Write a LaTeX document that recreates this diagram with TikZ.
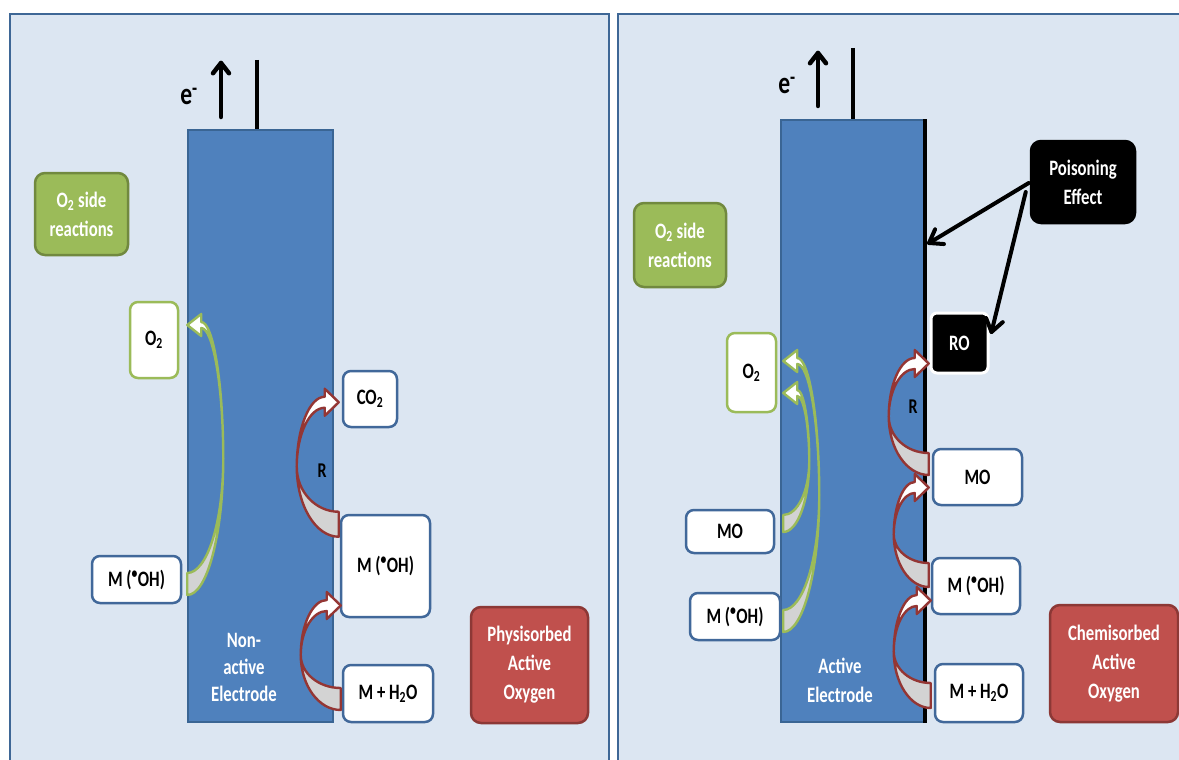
\documentclass[tikz,border=0pt]{standalone}
\usepackage{fontspec}
\newfontfamily\lblfont{Carlito}[FakeStretch=0.76]
\usetikzlibrary{arrows.meta,calc}
\definecolor{bgblue}{HTML}{DCE6F2}
\definecolor{panelblue}{HTML}{3E6796}
\definecolor{elblue}{HTML}{4F81BD}
\definecolor{elborder}{HTML}{3A6594}
\definecolor{boxblue}{HTML}{41689A}
\definecolor{gline}{HTML}{9BBB59}
\definecolor{gborder}{HTML}{71893F}
\definecolor{rfill}{HTML}{C0504D}
\definecolor{rborder}{HTML}{8C3836}
\definecolor{arrred}{HTML}{943634}
\definecolor{arrgrey}{HTML}{D3D3D3}
\newcommand\labfont{\lblfont\bfseries\fontsize{22}{29}\selectfont}
% #1 origin, #2 direction (1 bulge left, -1 bulge right), #3 H, #4 B, #5 w, #6 t, #7 colour
\newcommand\curvArrow[7]{%
\begin{scope}[shift={#1}, xscale=#2]
  \pgfmathsetmacro\kB{0.5523*#4}
  \filldraw[fill=arrgrey, draw=#7, line width=2.4pt, line join=round]
    (0,0) .. controls (-\kB,0) and (-#4,{-#3/2+0.5523*#3/2}) .. (-#4,{-#3/2})
    .. controls (-#4,{-#3/2+0.5523*(#3/2-#5)}) and (-\kB,-#5) .. (0,-#5) -- cycle;
  \filldraw[fill=white, draw=#7, line width=2.4pt, line join=round]
    (-#4,{-#3/2}) .. controls (-#4,{-#3/2-0.5523*#3/2}) and ({-\kB-6},-#3) .. (-14,-#3)
    -- (-14,{-#3-8}) -- (0,{-#3+#6/2}) -- (-14,{-#3+#6+8}) -- (-14,{-#3+#6})
    .. controls ({-\kB-6},{-#3+#6}) and (-#4,{-#3/2-0.5523*(#3/2-#6)}) .. (-#4,{-#3/2}) -- cycle;
\end{scope}}
% open V arrow: #1 start, #2 tip, #3 barb length, #4 half angle, #5 line width
\newcommand\vArrow[5]{%
  \draw[line width=#5, line cap=round, line join=round] #1 -- #2;
  \draw[line width=#5, line cap=round, line join=round]
    ($#2!#3!#4:#1$) -- #2 -- ($#2!#3!-#4:#1$);}
\begin{document}
\begin{tikzpicture}[x=1pt,y=-1pt,
  panel/.style={fill=bgblue, draw=panelblue, line width=2.5pt},
  elec/.style={fill=elblue, draw=elborder, line width=1.5pt, inner sep=0pt},
  eltext/.style={text=white, font=\labfont, align=center},
  wbox/.style={draw=boxblue, fill=white, line width=2.5pt, rounded corners=8pt, inner sep=0pt, font=\labfont, align=center},
  gbox/.style={wbox, draw=gline},
  tagbox/.style={rounded corners=10pt, line width=2.5pt, inner sep=0pt, text=white, font=\labfont, align=center},
  greentag/.style={tagbox, fill=gline, draw=gborder},
  redtag/.style={tagbox, fill=rfill, draw=rborder},
  blacktag/.style={tagbox, fill=black, draw=black},
  wire/.style={line width=3.5pt},
  rlabel/.style={font=\lblfont\bfseries\fontsize{21}{24}\selectfont},
  elabel/.style={font=\lblfont\bfseries\fontsize{31}{34}\selectfont, inner sep=0pt}
]
\useasboundingbox (0,0) rectangle (1179,760);
\clip (0,0) rectangle (1179,760);
\fill[white] (0,0) rectangle (1179,760);
\draw[panel] (10,14) rectangle (609,775);
\draw[panel] (618,14) rectangle (1195,775);

% ---------- left panel ----------
\node[elec, minimum width=145, minimum height=592] (lelec) at (260.5,426) {};
\node[eltext] (ltxt) at (244,667) {Non-\\[-2pt]active\\[-2pt]Electrode};
\coordinate (lwire) at (257,60);
\draw[wire] (lwire) -- (lwire |- lelec.north);
\coordinate (learrS) at (221,117);
\coordinate (learrE) at (221,63);
\vArrow{(learrS)}{(learrE)}{13pt}{38}{4.5pt}
\node[elabel] (le) at (189,96) {e\textsuperscript{-}};

\node[greentag, minimum width=93, minimum height=82] (lside) at (81.5,214) {O\textsubscript{2} side\\reactions};
\node[gbox, minimum width=48, minimum height=76] (lo2) at (154,340) {O\textsubscript{2}};
\node[wbox, minimum width=89, minimum height=47] (lmoh1) at (136.5,579.5) {M (\textsuperscript{\textbullet}OH)};
\node[wbox, minimum width=54, minimum height=56] (lco2) at (370,399) {CO\textsubscript{2}};
\node[wbox, minimum width=89, minimum height=102] (lmoh2) at (385.5,566) {M (\textsuperscript{\textbullet}OH)};
\node[wbox, minimum width=90, minimum height=57] (lmh2o) at (388,693.5) {M + H\textsubscript{2}O};
\node[redtag, minimum width=117, minimum height=116] (lphys) at (529.5,665) {Physisorbed\\Active\\Oxygen};
\node[rlabel] (lR) at (322,471) {R};

\curvArrow{($(lmoh1.east)+(5,15.5)$)}{-1}{273}{36}{22}{6}{gline}
\curvArrow{($(lmoh2.north west)+(-1,23)$)}{1}{140}{42}{25}{11}{arrred}
\curvArrow{($(lmh2o.west)+(-1,16.5)$)}{1}{110}{40}{22}{11}{arrred}

% ---------- right panel ----------
\node[elec, minimum width=143, minimum height=602] (relec) at (852.5,421) {};
\draw[line width=3.5pt] (relec.north east) -- (relec.south east);
\node[eltext] (rtxt) at (840,680) {Active\\Electrode};
\coordinate (rwire) at (853,48);
\draw[wire] (rwire) -- (rwire |- relec.north);
\coordinate (rearrS) at (818,106);
\coordinate (rearrE) at (818,53);
\vArrow{(rearrS)}{(rearrE)}{13pt}{38}{4.5pt}
\node[elabel] (re) at (787,85) {e\textsuperscript{-}};

\node[greentag, minimum width=92, minimum height=84] (rside) at (680,245) {O\textsubscript{2} side\\reactions};
\node[gbox, minimum width=49, minimum height=79] (ro2) at (751.5,372.5) {O\textsubscript{2}};
\node[wbox, minimum width=88, minimum height=43] (rmo1) at (730,531.5) {MO};
\node[wbox, minimum width=90, minimum height=47] (rmoh1) at (735,616.5) {M (\textsuperscript{\textbullet}OH)};
\node[blacktag, draw=white, line width=3pt, rounded corners=6pt, minimum width=57, minimum height=60] (rro) at (959.5,343) {RO};
\node[wbox, minimum width=89, minimum height=56] (rmo2) at (977.5,477) {MO};
\node[wbox, minimum width=88, minimum height=56] (rmoh2) at (976,586) {M (\textsuperscript{\textbullet}OH)};
\node[wbox, minimum width=88, minimum height=58] (rmh2o) at (979,693) {M + H\textsubscript{2}O};
\node[blacktag, minimum width=104, minimum height=82] (rpois) at (1083,182) {Poisoning\\Effect};
\node[redtag, minimum width=128, minimum height=117] (rchem) at (1114,663.5) {Chemisorbed\\Active\\Oxygen};
\node[rlabel] (rR) at (913,407) {R};

\curvArrow{($(rmoh1.east)+(2,15.5)$)}{-1}{274}{36}{22}{6}{gline}
\curvArrow{($(rmo1.east)+(8,0.5)$)}{-1}{142}{26}{17}{6}{gline}
\curvArrow{($(rmo2.west)+(-3,-2)$)}{1}{117}{40}{22}{11}{arrred}
\curvArrow{($(rmoh2.west)+(-2,1)$)}{1}{105}{35}{24}{11}{arrred}
\curvArrow{($(rmh2o.west)+(-3,15)$)}{1}{113}{37}{25}{11}{arrred}

\coordinate (pz) at (929,243);
\coordinate (pa) at ($(rpois.west)+(-1,1)$);
\coordinate (pb) at ($(rpois.west)+(-4,10)$);
\coordinate (pc) at ($(rro.east)+(2,-11)$);
\vArrow{(pa)}{(pz)}{15pt}{35}{4pt}
\vArrow{(pb)}{(pc)}{15pt}{35}{4pt}
\end{tikzpicture}
\end{document}
